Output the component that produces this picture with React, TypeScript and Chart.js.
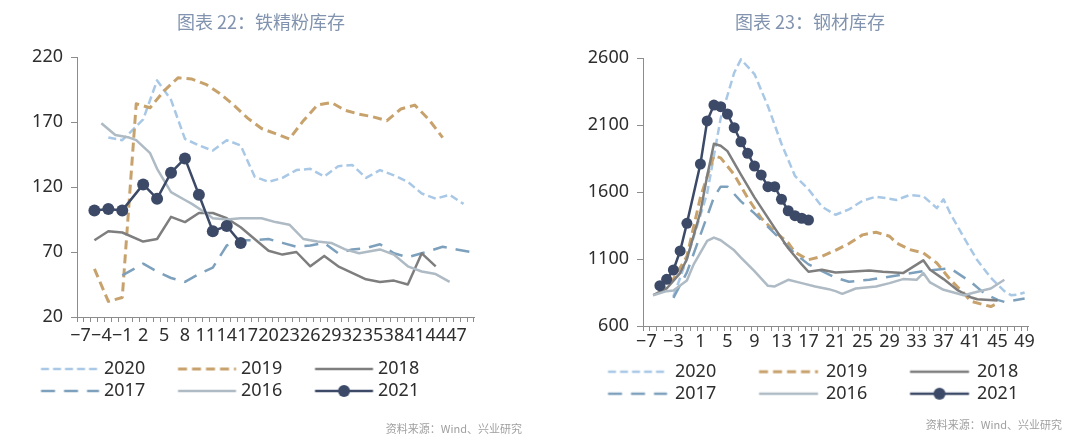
import React, { useEffect, useRef } from 'react';
import { Chart, registerables } from 'chart.js';

Chart.register(...registerables);

// ---------- categories / tick labels ----------
const weekLabels: string[] = ['-7','-6','-5','-4','-3','-2','-1','0','1','2','3','4','5','6','7','8','9','10','11','12','13','14','15','16','17','18','19','20','21','22','23','24','25','26','27','28','29','30','31','32','33','34','35','36','37','38','39','40','41','42','43','44','45','46','47','48','49'];
const seriesNames: string[] = ['2020', '2019', '2018', '2017', '2016', '2021'];
const sourceText = '资料来源：Wind、兴业研究';

// ---------- left chart: 铁精粉库存 ----------
const ironTitle = '图表 22：铁精粉库存';
const ironTicks = { min: 20, max: 220, step: 50 };
const iron2020W = [-3, -1, 2, 4, 6, 8, 10, 12, 14, 16, 18, 20, 22, 24, 26, 28, 30, 32, 34, 36, 38, 40, 42, 44, 46, 48];
const iron2020 = [158, 156, 172, 202, 187, 157, 152, 148, 156, 152, 128, 124, 127, 133, 134, 128, 136, 137, 127, 133, 129, 124, 115, 111, 114, 107];
const iron2019W = [-5, -3, -1, 1, 3, 5, 7, 9, 11, 13, 15, 17, 19, 21, 23, 25, 27, 29, 31, 33, 35, 37, 39, 41, 43, 45];
const iron2019 = [57, 32, 35, 184, 181, 194, 204, 203, 199, 192, 183, 173, 165, 161, 157, 171, 183, 185, 179, 176, 174, 171, 180, 183, 172, 158];
const iron2018W = [-5, -3, -1, 2, 4, 6, 8, 10, 12, 14, 16, 18, 20, 22, 24, 26, 28, 30, 32, 34, 36, 38, 40, 42, 44];
const iron2018 = [79, 86, 85, 78, 80, 97, 93, 100, 100, 96, 89, 80, 71, 68, 70, 59, 67, 59, 54, 49, 47, 48, 45, 69, 59];
const iron2017W = [-1, 2, 4, 6, 8, 10, 12, 14, 16, 18, 20, 22, 24, 26, 28, 30, 32, 34, 36, 38, 40, 42, 45, 47, 49];
const iron2017 = [52, 61, 55, 50, 47, 53, 58, 75, 79, 79, 80, 77, 74, 75, 77, 69, 72, 73, 76, 69, 66, 69, 74, 72, 70];
const iron2016W = [-4, -2, 0, 1, 3, 4, 6, 8, 9, 11, 12, 14, 16, 19, 21, 23, 25, 27, 29, 31, 33, 36, 38, 40, 42, 44, 46];
const iron2016 = [169, 160, 158, 156, 146, 134, 116, 110, 107, 100, 96, 95, 96, 96, 93, 91, 80, 78, 77, 72, 69, 72, 68, 59, 55, 53, 47];
const iron2021W = [-5, -3, -1, 2, 4, 6, 8, 10, 12, 14, 16];
const iron2021 = [102, 103, 102, 122, 111, 131, 142, 114, 86, 90, 77];

// ---------- right chart: 钢材库存 ----------
const steelTitle = '图表 23：钢材库存';
const steelTicks = { min: 600, max: 2600, step: 500 };
const steel2020W = [-3, -1, 2, 4, 6, 7, 9, 11, 13, 15, 17, 19, 21, 23, 25, 27, 29, 30, 32, 34, 36, 37, 38, 40, 42, 44, 46, 47, 48, 49];
const steel2020 = [820, 1100, 1590, 2150, 2490, 2590, 2480, 2240, 1960, 1720, 1620, 1490, 1430, 1470, 1535, 1565, 1550, 1540, 1578, 1568, 1480, 1545, 1440, 1260, 1090, 960, 860, 830, 835, 850];
const steel2019W = [-5, -3, -1, 1, 3, 4, 6, 8, 10, 12, 14, 15, 17, 19, 21, 23, 25, 27, 29, 30, 32, 34, 36, 38, 40, 41, 44, 45];
const steel2019 = [845, 950, 1120, 1560, 1870, 1855, 1730, 1555, 1405, 1305, 1220, 1150, 1095, 1120, 1165, 1215, 1280, 1300, 1270, 1220, 1170, 1145, 1070, 945, 845, 785, 745, 770];
const steel2018W = [-6, -4, -2, -1, 1, 2, 3, 4, 5, 7, 9, 12, 14, 16, 17, 19, 21, 23, 26, 28, 31, 34, 35, 37, 39, 41, 42, 45];
const steel2018 = [830, 880, 995, 1100, 1450, 1720, 1960, 1945, 1905, 1730, 1560, 1330, 1180, 1060, 1005, 1020, 1000, 1005, 1015, 1005, 995, 1090, 1020, 950, 870, 815, 800, 790];
const steel2017W = [-3, -1, 1, 3, 4, 5, 7, 9, 11, 13, 15, 17, 19, 21, 23, 26, 28, 31, 34, 38, 41, 43, 45, 46, 49];
const steel2017 = [810, 1000, 1280, 1560, 1640, 1640, 1530, 1440, 1340, 1240, 1140, 1060, 1010, 960, 930, 945, 960, 985, 1010, 1030, 930, 845, 795, 780, 805];
const steel2016W = [-6, -4, -3, -1, 0, 2, 3, 4, 6, 7, 9, 11, 12, 14, 16, 18, 20, 21, 22, 24, 27, 29, 31, 33, 34, 35, 37, 40, 42, 44, 46];
const steel2016 = [830, 860, 865, 940, 1060, 1235, 1260, 1240, 1165, 1110, 1010, 900, 895, 945, 920, 895, 875, 860, 840, 880, 895, 920, 950, 945, 995, 925, 870, 830, 855, 880, 945];
const steel2021W = [-5, -4, -3, -2, -1, 1, 2, 3, 4, 5, 6, 7, 8, 9, 10, 11, 12, 13, 14, 15, 16, 17];
const steel2021 = [901, 948, 1018, 1160, 1366, 1809, 2130, 2249, 2237, 2182, 2080, 1975, 1889, 1794, 1727, 1640, 1640, 1546, 1460, 1423, 1404, 1391];

// ---------- styles ----------
type LineStyle = { color: string; dash: number[]; width: number; marker: boolean; order: number };
const lineStyles: LineStyle[] = [
  { color: '#A8C8E6', dash: [8, 4], width: 2.5, marker: false, order: 5 },
  { color: '#C8A26C', dash: [9, 5], width: 3, marker: false, order: 4 },
  { color: '#7E7E7E', dash: [], width: 2.5, marker: false, order: 2 },
  { color: '#7DA0BD', dash: [14, 9], width: 2.5, marker: false, order: 3 },
  { color: '#AEBAC4', dash: [], width: 2.5, marker: false, order: 1 },
  { color: '#3C4A68', dash: [], width: 2.5, marker: true, order: 0 },
];

const NUM_FONT = '"Noto Sans", "DejaVu Sans", sans-serif';
const CJK_FONT = '"Noto Sans CJK SC", "Noto Sans", sans-serif';
const AXIS_COLOR = '#8C8C8C';
const TEXT_COLOR = '#2E2E2E';
const TITLE_COLOR = '#8193AE';
const SOURCE_COLOR = '#A0A0A0';

type Panel = {
  title: string;
  weeks: number[][];
  values: number[][];
  yr: { min: number; max: number; step: number };
  labelStep: number;
  padL: number;
  padR: number;
  yAxisW: number;
  rightW: number;
  chartTop: number;
  chartBottom: number;
  xAxisH: number;
  xPad: number;
  legendStart: number;
  legendPitch: number;
  legendLine: number;
  legendGap: number;
  sourceY: number;
  markerR: number;
};

const H = 440;
const W = 540;

const leftPanel: Panel = {
  title: ironTitle,
  weeks: [iron2020W, iron2019W, iron2018W, iron2017W, iron2016W, iron2021W],
  values: [iron2020, iron2019, iron2018, iron2017, iron2016, iron2021],
  yr: ironTicks,
  labelStep: 3,
  padL: 0,
  padR: 18,
  yAxisW: 77,
  rightW: 48,
  chartTop: 57,
  chartBottom: 317,
  xAxisH: 39,
  xPad: 3,
  legendStart: 41,
  legendPitch: 137,
  legendLine: 58,
  legendGap: 5,
  sourceY: 429,
  markerR: 6,
};

const rightPanel: Panel = {
  title: steelTitle,
  weeks: [steel2020W, steel2019W, steel2018W, steel2017W, steel2016W, steel2021W],
  values: [steel2020, steel2019, steel2018, steel2017, steel2016, steel2021],
  yr: steelTicks,
  labelStep: 4,
  padL: 18,
  padR: 18,
  yAxisW: 85,
  rightW: 34,
  chartTop: 58,
  chartBottom: 326,
  xAxisH: 32.7,
  xPad: 0,
  legendStart: 68,
  legendPitch: 151,
  legendLine: 59,
  legendGap: 8,
  sourceY: 425,
  markerR: 5.5,
};

const legendShift = {
  id: 'legendShift',
  afterLayout(chart: any, _args: any, opts: any) {
    const lg = chart.legend;
    if (!lg || typeof opts.left !== 'number') return;
    const dx = opts.left - lg.left;
    lg.left += dx;
    lg.right += dx;
  },
};

function makeChart(canvas: HTMLCanvasElement, p: Panel) {
  const LEG_FONT = 18;
  const mc = document.createElement('canvas').getContext('2d')!;
  mc.font = `${LEG_FONT}px ${NUM_FONT}`;
  const tw = Math.max(...seriesNames.map((n) => mc.measureText(n).width));
  const pw = p.legendPitch - 4 - LEG_FONT / 2 - tw;
  const e = pw + LEG_FONT / 2 - p.legendGap;
  const s = e - p.legendLine;
  const half = Math.ceil(Math.max(pw / 2 - s, e - pw / 2)) + 2;
  const samples = lineStyles.map((st) => {
    const c = document.createElement('canvas');
    c.width = half * 2;
    c.height = 16;
    const g = c.getContext('2d')!;
    const x0 = s - pw / 2 + half;
    const x1 = e - pw / 2 + half;
    g.strokeStyle = st.color;
    g.lineWidth = st.width;
    g.setLineDash(st.dash);
    g.beginPath();
    g.moveTo(x0, 8);
    g.lineTo(x1, 8);
    g.stroke();
    if (st.marker) {
      g.setLineDash([]);
      g.fillStyle = st.color;
      g.beginPath();
      g.arc((x0 + x1) / 2, 8, 6, 0, Math.PI * 2);
      g.fill();
    }
    return c;
  });
  const legendLeft = p.legendStart - 4 - s;

  const titleLH = 18 * 1.2;
  const titlePT = 22 - titleLH / 2;
  const titlePB = p.chartTop - titlePT - titleLH;
  const legendBottom = p.chartBottom + p.xAxisH + 54;
  const srcLH = 11 * 1.2;
  const srcPT = p.sourceY - legendBottom - srcLH / 2;
  const srcPB = H - legendBottom - srcPT - srcLH;

  const datasets = p.weeks.map((wk, i) => ({
    label: seriesNames[i],
    data: wk.map((w, j) => ({ x: String(w), y: p.values[i][j] })),
    borderColor: lineStyles[i].color,
    backgroundColor: lineStyles[i].color,
    borderWidth: lineStyles[i].width,
    borderDash: lineStyles[i].dash,
    borderJoinStyle: 'round' as const,
    pointRadius: lineStyles[i].marker ? p.markerR : 0,
    pointHoverRadius: 0,
    pointBackgroundColor: lineStyles[i].color,
    pointBorderWidth: 0,
    tension: 0,
    fill: false,
    order: lineStyles[i].order,
    xAxisID: 'x',
    yAxisID: 'y',
  }));

  return new Chart(canvas, {
    type: 'line',
    data: { labels: weekLabels, datasets },
    options: {
      responsive: false,
      maintainAspectRatio: false,
      animation: false,
      events: [],
      layout: { padding: { left: p.padL, right: p.padR, top: 0, bottom: 0 } },
      scales: {
        x: {
          type: 'category',
          offset: true,
          grid: { offset: true, drawOnChartArea: false, drawTicks: true, tickLength: 5, color: AXIS_COLOR, lineWidth: 1 },
          border: { display: true, color: AXIS_COLOR, width: 1 },
          ticks: {
            autoSkip: false,
            maxRotation: 0,
            minRotation: 0,
            padding: p.xPad,
            color: TEXT_COLOR,
            font: { family: NUM_FONT, size: 18 },
            callback: (_v: any, i: number) => (i % p.labelStep === 0 ? weekLabels[i].replace('-', '−') : ''),
          },
          afterFit: (sc: any) => { sc.height = p.xAxisH; },
        },
        y: {
          type: 'linear',
          position: 'left',
          min: p.yr.min,
          max: p.yr.max,
          ticks: {
            stepSize: p.yr.step,
            padding: 8,
            color: TEXT_COLOR,
            font: { family: NUM_FONT, size: 18 },
            callback: (v: any) => String(v),
          },
          grid: { drawOnChartArea: false, drawTicks: true, tickLength: 6, color: AXIS_COLOR },
          border: { display: true, color: AXIS_COLOR, width: 1 },
          afterFit: (sc: any) => { sc.width = p.yAxisW; },
        },
        yPad: {
          type: 'linear',
          position: 'right',
          display: true,
          grid: { display: false },
          border: { display: false },
          ticks: { display: false },
          afterFit: (sc: any) => { sc.width = p.rightW; },
        },
      },
      plugins: {
        title: {
          display: true,
          text: p.title,
          color: TITLE_COLOR,
          font: { family: CJK_FONT, size: 18, weight: 'normal' },
          padding: { top: titlePT, bottom: titlePB },
        },
        subtitle: {
          display: true,
          position: 'bottom',
          align: 'end',
          text: sourceText,
          color: SOURCE_COLOR,
          font: { family: CJK_FONT, size: 11, weight: 'normal' },
          padding: { top: srcPT, bottom: srcPB },
        },
        legend: {
          display: true,
          position: 'bottom',
          align: 'start',
          labels: {
            usePointStyle: true,
            pointStyleWidth: pw,
            padding: 4,
            color: TEXT_COLOR,
            font: { family: NUM_FONT, size: LEG_FONT },
            generateLabels: () =>
              seriesNames.map((n, i) => ({
                text: n,
                pointStyle: samples[i],
                fillStyle: 'rgba(0,0,0,0)',
                strokeStyle: 'rgba(0,0,0,0)',
                lineWidth: 0,
                hidden: false,
                datasetIndex: i,
                fontColor: TEXT_COLOR,
              })),
          },
        },
        tooltip: { enabled: false },
        legendShift: { left: legendLeft },
      } as any,
    },
    plugins: [legendShift],
  } as any);
}

export default function App() {
  const leftRef = useRef<HTMLCanvasElement>(null);
  const rightRef = useRef<HTMLCanvasElement>(null);

  useEffect(() => {
    const charts: Chart[] = [];
    if (leftRef.current) charts.push(makeChart(leftRef.current, leftPanel));
    if (rightRef.current) charts.push(makeChart(rightRef.current, rightPanel));
    return () => charts.forEach((c) => c.destroy());
  }, []);

  return (
    <div style={{ position: 'absolute', left: 0, top: 0, width: 1080, height: H, background: '#ffffff', overflow: 'hidden' }}>
      <canvas ref={leftRef} width={W} height={H} style={{ position: 'absolute', left: 0, top: 0, width: W, height: H }} />
      <canvas ref={rightRef} width={W} height={H} style={{ position: 'absolute', left: 540, top: 0, width: W, height: H }} />
    </div>
  );
}
